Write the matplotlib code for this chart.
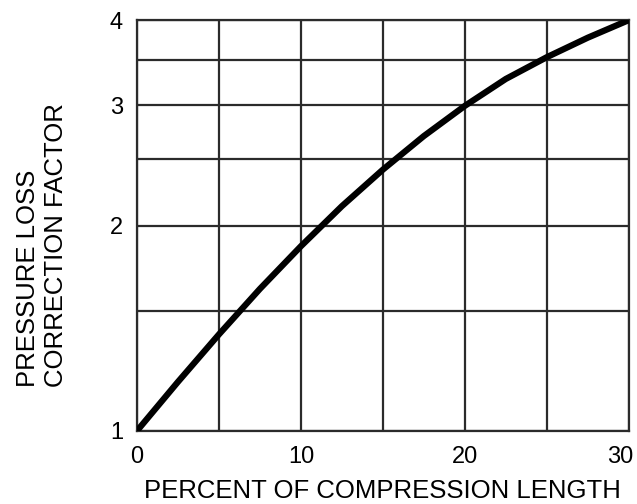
import matplotlib
matplotlib.use("Agg")
import matplotlib.pyplot as plt
from matplotlib.ticker import FixedLocator, NullFormatter, FixedFormatter
from matplotlib.transforms import ScaledTranslation

# Correction factor vs. percent of compression length
percent = [0, 2.5, 5, 7.5, 10, 12.5, 15, 17.5, 20, 22.5, 25, 27.5, 30]
factor = [1.0, 1.18, 1.385, 1.615, 1.865, 2.135, 2.415, 2.705, 2.995, 3.28, 3.53, 3.77, 4.0]

x_major = [0, 10, 20, 30]
x_minor = [5, 15, 25]
y_major = [1, 2, 3, 4]
y_minor = [1.5, 2.5, 3.5]
y_labels = ["1", "2", "3", "4"]

plt.rcParams['font.family'] = ['Liberation Sans', 'DejaVu Sans']

fig = plt.figure(figsize=(6.37, 5.04), dpi=100)
ax = fig.add_axes([0.215, 0.145, 0.772, 0.815])

ax.set_yscale('log')
ax.set_xlim(0, 30)
ax.set_ylim(1, 4)

ax.xaxis.set_major_locator(FixedLocator(x_major))
ax.xaxis.set_minor_locator(FixedLocator(x_minor))
ax.yaxis.set_major_locator(FixedLocator(y_major))
ax.yaxis.set_major_formatter(FixedFormatter(y_labels))
ax.yaxis.set_minor_locator(FixedLocator(y_minor))
ax.yaxis.set_minor_formatter(NullFormatter())

grid_color = '#2b2b2b'
ax.grid(True, which='both', color=grid_color, linewidth=1.6)
for s in ax.spines.values():
    s.set_color(grid_color)
    s.set_linewidth(1.6)

ax.tick_params(which='both', length=0, labelsize=17, colors='black')
ax.tick_params(axis='x', pad=11)
ax.tick_params(axis='y', pad=10)

ax.plot(percent, factor, color='black', linewidth=4.5, solid_capstyle='round', zorder=5)

ax.set_xlabel('PERCENT OF COMPRESSION LENGTH', fontsize=18.5, labelpad=8)
ax.set_ylabel('PRESSURE LOSS\nCORRECTION FACTOR', fontsize=18.5, labelpad=30,
              linespacing=1.2, multialignment='left', y=0.453)

# keep the last x tick label inside the figure edge
fig.canvas.draw()
last = ax.get_xticklabels()[-1]
last.set_transform(last.get_transform() + ScaledTranslation(-6 / 72, 0, fig.dpi_scale_trans))

fig.savefig('out.png', dpi=100)
